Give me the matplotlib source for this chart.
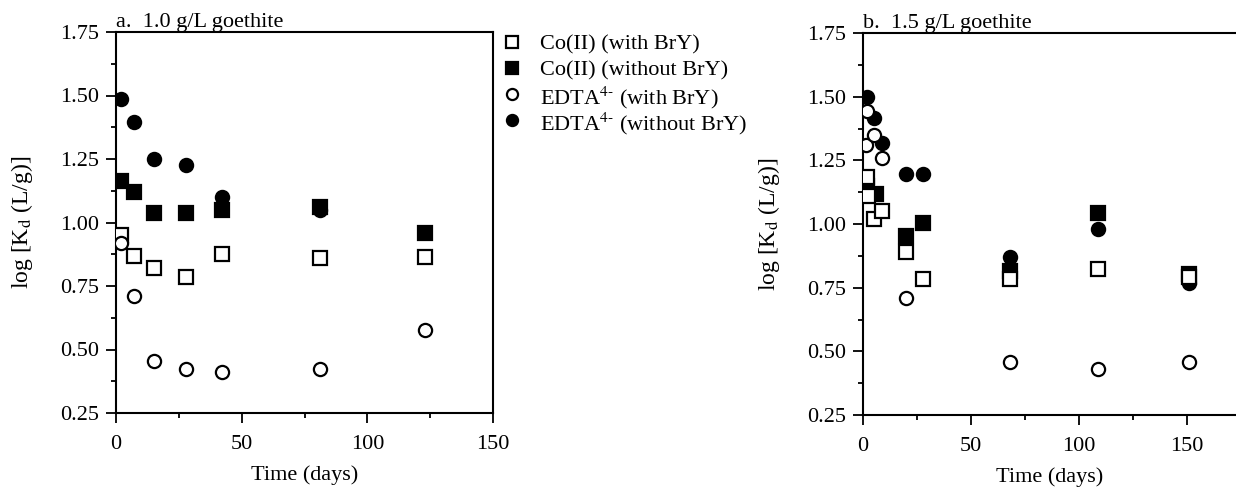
import matplotlib
matplotlib.use("Agg")
import matplotlib.pyplot as plt
from matplotlib.lines import Line2D
from matplotlib.ticker import MultipleLocator, FormatStrFormatter

plt.rcParams['font.family'] = ['Liberation Serif', 'DejaVu Serif']
plt.rcParams['mathtext.fontset'] = 'stix'
plt.rcParams['font.size'] = 16

# panel a: 1.0 g/L goethite
a_co_with_t = [2, 7, 15, 28, 42, 81, 123]
a_co_with = [0.95, 0.87, 0.82, 0.785, 0.875, 0.86, 0.865]
a_co_without_t = [2, 7, 15, 28, 42, 81, 123]
a_co_without = [1.165, 1.12, 1.036, 1.036, 1.05, 1.06, 0.96]
a_edta_with_t = [2, 7, 15, 28, 42, 81, 123]
a_edta_with = [0.92, 0.71, 0.455, 0.425, 0.41, 0.425, 0.575]
a_edta_without_t = [2, 7, 15, 28, 42, 81]
a_edta_without = [1.485, 1.395, 1.25, 1.225, 1.10, 1.05]

# panel b: 1.5 g/L goethite
b_co_with_t = [2, 2.3, 5, 9, 20, 28, 68, 109, 151]
b_co_with = [1.184, 1.11, 1.02, 1.05, 0.89, 0.785, 0.785, 0.825, 0.79]
b_co_without_t = [2, 6, 20, 28, 68, 109, 151]
b_co_without = [1.148, 1.117, 0.953, 1.004, 0.815, 1.043, 0.805]
b_edta_with_t = [1.4, 2, 5, 9, 20, 68, 109, 151]
b_edta_with = [1.31, 1.445, 1.35, 1.26, 0.71, 0.46, 0.43, 0.46]
b_edta_without_t = [1.9, 5.1, 8.8, 20, 28, 68, 109, 151]
b_edta_without = [1.50, 1.418, 1.32, 1.195, 1.195, 0.87, 0.98, 0.77]

labels = ['Co(II) (with BrY)', 'Co(II) (without BrY)',
          r'EDTA$^{4\text{-}}$ (with BrY)', r'EDTA$^{4\text{-}}$ (without BrY)']
legend_marker = ['s', 's', 'o', 'o']
legend_fill = ['white', 'black', 'white', 'black']

W, H = 1236, 492
fig = plt.figure(figsize=(W / 100, H / 100), dpi=100)
ax_a = fig.add_axes([116 / W, 1 - 413 / H, (493 - 116) / W, (413 - 32) / H])
ax_b = fig.add_axes([863 / W, 1 - 415 / H, (W - 863) / W, (415 - 33) / H])

ms = 9.5
mew = 1.6


def draw(ax, data, xmax, title):
    (cw_t, cw), (cn_t, cn), (ew_t, ew), (en_t, en) = data
    ax.plot(en_t, en, 'o', ms=ms, mfc='black', mec='black', mew=mew, zorder=3)
    ax.plot(cn_t, cn, 's', ms=ms, mfc='black', mec='black', mew=mew, zorder=4)
    ax.plot(cw_t, cw, 's', ms=ms, mfc='white', mec='black', mew=mew, zorder=5)
    ax.plot(ew_t, ew, 'o', ms=ms, mfc='white', mec='black', mew=mew, zorder=6)
    ax.set_xlim(0, xmax)
    ax.set_ylim(0.25, 1.75)
    ax.xaxis.set_major_locator(MultipleLocator(50))
    ax.xaxis.set_minor_locator(MultipleLocator(25))
    ax.yaxis.set_major_locator(MultipleLocator(0.25))
    ax.yaxis.set_minor_locator(MultipleLocator(0.125))
    ax.yaxis.set_major_formatter(FormatStrFormatter('%.2f'))
    ax.tick_params(which='major', direction='out', length=7, width=1.3, labelsize=16)
    ax.tick_params(axis='x', which='major', pad=9)
    ax.tick_params(axis='y', which='major', pad=5)
    ax.tick_params(which='minor', direction='out', length=3.5, width=1.3)
    for s in ax.spines.values():
        s.set_linewidth(1.5)
    ax.set_xlabel('Time (days)', fontsize=16, labelpad=8)
    ax.set_ylabel(r'log [K$_{\mathrm{d}}$ (L/g)]', fontsize=17, labelpad=18)
    ax.text(0.0, 1.0, title, transform=ax.transAxes, ha='left', va='bottom', fontsize=16)


draw(ax_a, [(a_co_with_t, a_co_with), (a_co_without_t, a_co_without),
            (a_edta_with_t, a_edta_with), (a_edta_without_t, a_edta_without)],
     150, 'a.  1.0 g/L goethite')
draw(ax_b, [(b_co_with_t, b_co_with), (b_co_without_t, b_co_without),
            (b_edta_with_t, b_edta_with), (b_edta_without_t, b_edta_without)],
     (W - 863) / 2.16, 'b.  1.5 g/L goethite')
ax_b.spines['right'].set_visible(False)

# legend entries beside panel a
for i, lab in enumerate(labels):
    yy = 1 - (42 + 26 * i) / H
    fig.add_artist(Line2D([512 / W], [yy], transform=fig.transFigure, ls='none',
                          marker=legend_marker[i], ms=8, mfc=legend_fill[i],
                          mec='black', mew=1.6))
    fig.text(540 / W, yy, lab, ha='left', va='center_baseline', fontsize=16)

fig.savefig('out.png', dpi=100)
